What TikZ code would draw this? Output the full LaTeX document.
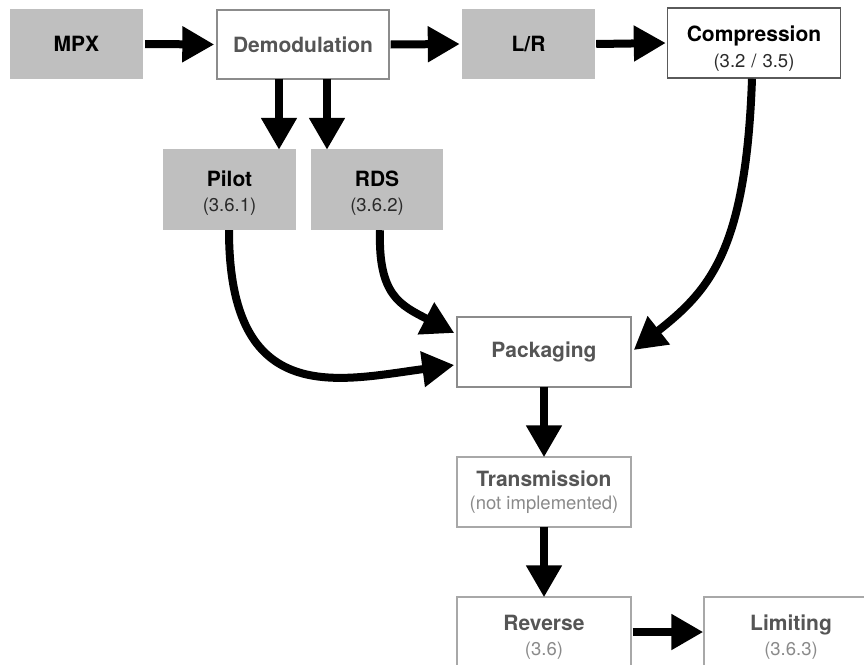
\documentclass[tikz,border=0pt]{standalone}
\usepackage{fontspec}
\setmainfont{TeX Gyre Heros}
\usetikzlibrary{arrows.meta}
\definecolor{boxgray}{HTML}{BFBFBF}
\definecolor{darktxt}{HTML}{555555}
\definecolor{subdark}{HTML}{2A2A2A}
\definecolor{sublight}{HTML}{8A8A8A}
\definecolor{borderdark}{HTML}{5A5A5A}
\definecolor{bordermid}{HTML}{8C8C8C}
\definecolor{borderlight}{HTML}{A8A8A8}
\tikzset{
  base/.style={rectangle, inner sep=0pt, align=center, anchor=center,
    font=\fontsize{18.5}{23}\selectfont},
  graybox/.style={base, fill=boxgray, draw=none, text=black},
  whitebox/.style={base, fill=white, draw=borderdark, line width=1.4pt, text=black},
  fadedbox/.style={base, fill=white, draw=borderlight, line width=1.4pt, text=darktxt},
  flow/.style={line width=8pt, -{Triangle[length=32pt,width=34pt]}},
}
\newcommand{\ttl}[1]{{\fontsize{21}{23}\selectfont\bfseries #1}}
\newcommand{\topstrut}[1]{\rule{0pt}{#1}}
\begin{document}
\begin{tikzpicture}[x=1pt,y=-1pt]
\useasboundingbox (0,0) rectangle (864,664);
\clip (0,0) rectangle (864,664);
% boxes
\node[graybox, minimum width=133pt, minimum height=70pt] (mpx) at (76.5,44) {\ttl{MPX}};
\node[fadedbox, draw=bordermid, minimum width=172pt, minimum height=69pt] (demod) at (303,44.5) {\ttl{Demodulation}};
\node[graybox, minimum width=133pt, minimum height=70pt] (lr) at (528.5,44) {\ttl{L/R}};
\node[whitebox, minimum width=173pt, minimum height=70pt] (comp) at (754,43) {\topstrut{27pt}\ttl{Compression}\\[3pt]\textcolor{subdark}{(3.2\hspace{6pt}/\hspace{6pt}3.5)}};
\node[graybox, minimum width=133pt, minimum height=81pt] (pilot) at (229.5,189.5) {\topstrut{22pt}\ttl{Pilot}\\[2pt]\textcolor{subdark}{(3.6.1)}};
\node[graybox, minimum width=132pt, minimum height=81pt] (rds) at (377,189.5) {\topstrut{22pt}\ttl{RDS}\\[2pt]\textcolor{subdark}{(3.6.2)}};
\node[fadedbox, draw=bordermid, minimum width=174pt, minimum height=70pt] (pack) at (544,352) {\ttl{Packaging}};
\node[fadedbox, minimum width=174pt, minimum height=70pt] (trans) at (544,492) {\ttl{Transmission}\\[0pt]\textcolor{sublight}{(not implemented)}};
\node[fadedbox, minimum width=174pt, minimum height=70pt] (rev) at (544,632) {\topstrut{25pt}\ttl{Reverse}\\[2pt]\textcolor{sublight}{(3.6)}};
\node[fadedbox, minimum width=174pt, minimum height=70pt] (lim) at (791,632) {\topstrut{25pt}\ttl{Limiting}\\[2pt]\textcolor{sublight}{(3.6.3)}};
% straight connectors
\draw[flow] ([xshift=2pt]mpx.east) -- ([xshift=-2pt]demod.west);
\draw[flow] ([xshift=1pt]demod.east) -- ([xshift=-2pt]lr.west);
\draw[flow] ([xshift=1pt]lr.east) -- ([xshift=-1pt]comp.west);
\coordinate (d1) at (demod.south -| 279,0);
\coordinate (d2) at (demod.south -| 327,0);
\draw[flow] ([yshift=1pt]d1) -- ([yshift=-1pt]d1 |- pilot.north);
\draw[flow] ([yshift=1pt]d2) -- ([yshift=-1pt]d2 |- rds.north);
\draw[flow] ([yshift=1pt]pack.south) -- ([yshift=-1pt]trans.north);
\draw[flow] ([yshift=1pt]trans.south) -- ([yshift=-1pt]rev.north);
\coordinate (r1) at (rev.east |- 0,632);
\draw[flow] ([xshift=1pt]r1) -- (lim.west |- r1);
% curved connectors
\coordinate (p0) at (pilot.south -| 229,0);
\coordinate (p1) at (pack.west |- 0,365);
\draw[flow] (p0) .. controls (229,410) and (340,380) .. ([xshift=-2pt]p1);
\coordinate (q0) at (rds.south -| 380,0);
\coordinate (q1) at (pack.west |- 0,333);
\draw[flow] (q0) .. controls (378,295) and (400,305) .. ([xshift=-2pt]q1);
\coordinate (c0) at (comp.south -| 752,0);
\coordinate (c1) at (pack.east |- 0,350);
\draw[flow] (c0) .. controls (746,250) and (710,290) .. ([xshift=2pt]c1);
\end{tikzpicture}
\end{document}
